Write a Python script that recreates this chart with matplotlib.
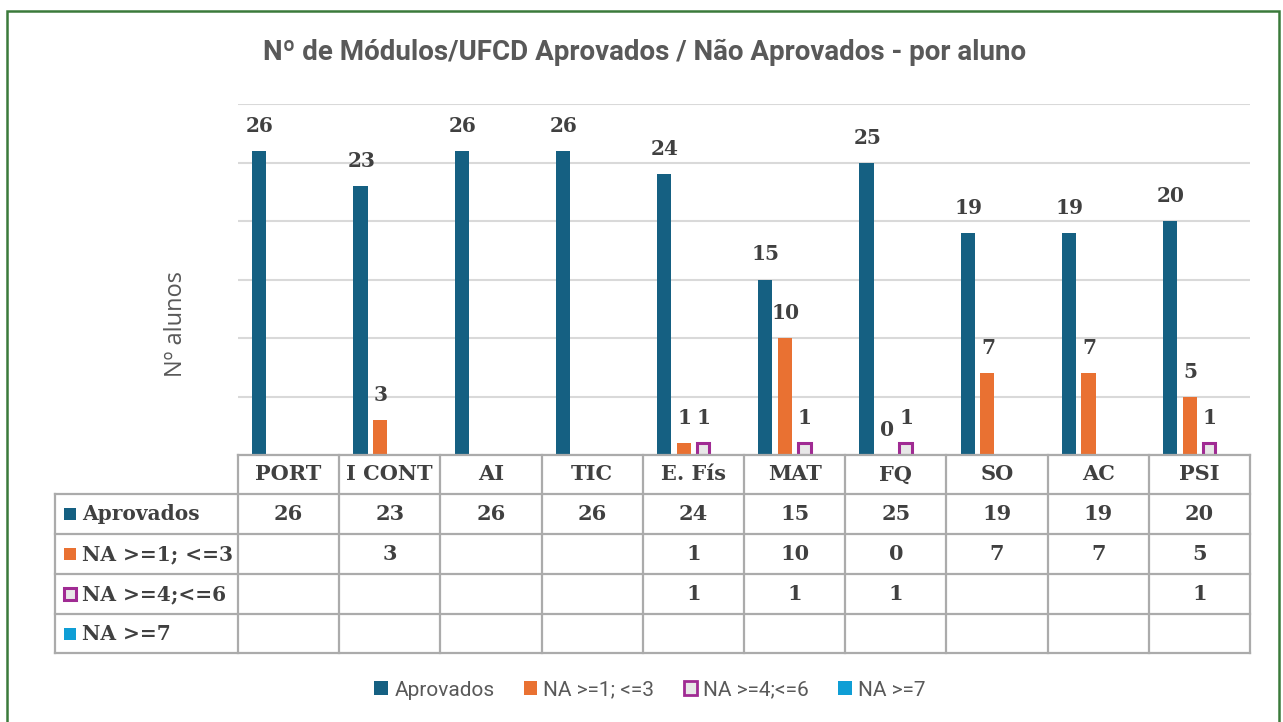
import matplotlib
matplotlib.use("Agg")
import matplotlib.pyplot as plt
import matplotlib.transforms as mtransforms
from matplotlib.patches import Rectangle, Patch
from matplotlib.lines import Line2D

# ---------------- data ----------------
categories = ["PORT", "I CONT", "AI", "TIC", "E. Fís", "MAT", "FQ", "SO", "AC", "PSI"]
aprovados = [26, 23, 26, 26, 24, 15, 25, 19, 19, 20]
na_1_3 = [None, 3, None, None, 1, 10, 0, 7, 7, 5]
na_4_6 = [None, None, None, None, 1, 1, 1, None, None, 1]
na_7 = [None, None, None, None, None, None, None, None, None, None]
series_names = ["Aprovados", "NA >=1; <=3", "NA >=4;<=6", "NA >=7"]
title = "Nº de Módulos/UFCD Aprovados / Não Aprovados - por aluno"
ylabel = "Nº alunos"

# ---------------- style ----------------
W, H = 1283, 722
C_BLUE, C_ORANGE, C_PURPLE, C_CYAN = "#156082", "#E97132", "#A02B93", "#0F9ED5"
TXT = "#404040"
GRAY = "#595959"
SERIF = ["DejaVu Serif"]
NARROW = ["Roboto", "DejaVu Sans"]

def fx(px):
    return px / W

def fy(py):
    return 1 - py / H

fig = plt.figure(figsize=(W / 100, H / 100), dpi=100)
fig.patch.set_facecolor("white")

ax = fig.add_axes([fx(238), fy(455), fx(1250) - fx(238), fy(104) - fy(455)])
ax.set_xlim(-0.5, len(categories) - 0.5)
ax.set_ylim(0, 30)
ax.set_yticks(range(0, 31, 5))
ax.yaxis.grid(True, color="#D9D9D9", linewidth=1.5)
ax.set_axisbelow(True)
ax.tick_params(left=False, bottom=False, labelleft=False, labelbottom=False)
for s in ax.spines.values():
    s.set_visible(False)

series = [aprovados, na_1_3, na_4_6, na_7]
colors = [C_BLUE, C_ORANGE, C_PURPLE, C_CYAN]
pitch = 0.193
bw = 0.14
for si, (vals, col) in enumerate(zip(series, colors)):
    off = (si - 1.5) * pitch
    for i, v in enumerate(vals):
        if v is None:
            continue
        x = i + off
        if si == 2:
            ax.bar(x, v, width=bw * 0.88, color="#E8E8E8", edgecolor=col, linewidth=2.2, zorder=3)
        else:
            ax.bar(x, v, width=bw, color=col, zorder=3)
        ax.annotate(str(v), (x, v), xytext=(0.5, 18), textcoords="offset points",
                    ha="center", va="center", fontsize=14.5, fontweight="bold",
                    family=SERIF, color=TXT, annotation_clip=False)

# y label
fig.text(fx(176), fy(324), ylabel, rotation=90, ha="center", va="center",
         fontsize=17, color=GRAY, family=["Open Sans", "DejaVu Sans"])

# title
fig.text(fx(645), fy(52), title, ha="center", va="center", fontsize=20,
         fontweight="bold", color=GRAY, family=NARROW)

# ---------------- data table ----------------
blend = mtransforms.blended_transform_factory(ax.transData, fig.transFigure)
LC = "#ABABAB"
LW = 1.6
row_y = [455, 494, 534, 574, 614, 653]
n = len(categories)
fig.add_artist(Line2D([fx(238), fx(1250)], [fy(455), fy(455)], color=LC, lw=LW))
for yy in row_y[1:]:
    fig.add_artist(Line2D([fx(55), fx(1250)], [fy(yy), fy(yy)], color=LC, lw=LW))
for k in range(n + 1):
    xb = k - 0.5
    ax.plot([xb, xb], [fy(455), fy(653)], transform=blend, color=LC, lw=LW, clip_on=False)
fig.add_artist(Line2D([fx(55), fx(55)], [fy(494), fy(653)], color=LC, lw=LW))

for i, c in enumerate(categories):
    ax.text(i, fy((455 + 494) / 2), c, transform=blend, ha="center", va="center",
            fontsize=15, fontweight="bold", family=SERIF, color=TXT)

for r, (vals, col, name) in enumerate(zip(series, colors, series_names)):
    yc = fy((row_y[r + 1] + row_y[r + 2]) / 2)
    for i, v in enumerate(vals):
        if v is None:
            continue
        ax.text(i, yc, str(v), transform=blend, ha="center", va="center",
                fontsize=15, fontweight="bold", family=SERIF, color=TXT)
    if r == 2:
        sq = Rectangle((fx(64), yc - 6 / H), 12 / W, 12 / H, transform=fig.transFigure,
                       facecolor="#E8E8E8", edgecolor=col, lw=2.2)
    else:
        sq = Rectangle((fx(64), yc - 6 / H), 12 / W, 12 / H, transform=fig.transFigure,
                       facecolor=col, edgecolor="none")
    fig.add_artist(sq)
    fig.text(fx(82), yc, name, ha="left", va="center", fontsize=14.5,
             fontweight="bold", family=SERIF, color=TXT)

# ---------------- legend ----------------
handles = [
    Patch(facecolor=C_BLUE, edgecolor="none"),
    Patch(facecolor=C_ORANGE, edgecolor="none"),
    Patch(facecolor="#E8E8E8", edgecolor=C_PURPLE, linewidth=2),
    Patch(facecolor=C_CYAN, edgecolor="none"),
]
fig.legend(handles, series_names, loc="center", bbox_to_anchor=(fx(650), fy(690)),
           ncol=4, frameon=False, handlelength=0.65, handleheight=0.65,
           handletextpad=0.3, columnspacing=1.4,
           prop={"family": NARROW, "size": 15}, labelcolor=GRAY)

# green border
fig.add_artist(Rectangle((fx(7), -0.02), fx(1279) - fx(7), fy(11) + 0.02,
                         transform=fig.transFigure, facecolor="none",
                         edgecolor="#3B7A3B", lw=1.8))

fig.savefig("out.png", dpi=100, facecolor="white")
